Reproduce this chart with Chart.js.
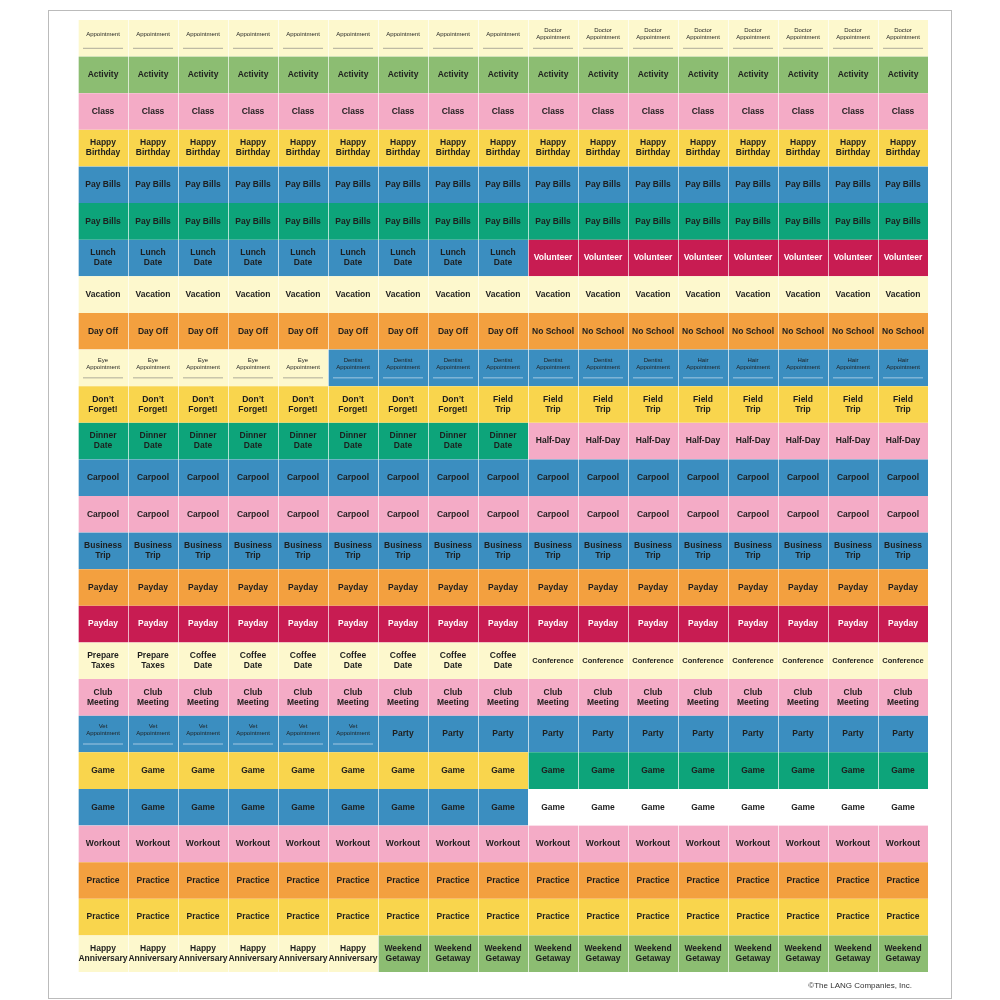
<!DOCTYPE html>
<html><head><meta charset="utf-8">
<script src="https://cdn.jsdelivr.net/npm/chart.js@4"></script>
<style>html,body{margin:0;padding:0;background:#fff}#w{width:1000px;height:1000px}</style>
</head><body><div id="w"><canvas id="c"></canvas></div>
<script>
const COLS = 17;
const colors = {ly:'#fdf8cd', gr:'#8cbd72', pk:'#f4abc6', ye:'#f9d54d', bl:'#3b8ec0', tg:'#0da47a', cr:'#c81c52', or:'#f3a03f', wh:'#ffffff'};
// each row: [label, colorKey, count] segments ("~" prefix = small appointment sticker)
const rows = [
 [['~Appointment','ly',9],['~Doctor\nAppointment','ly',8]],
 [['Activity','gr',17]],
 [['Class','pk',17]],
 [['Happy\nBirthday','ye',17]],
 [['Pay Bills','bl',17]],
 [['Pay Bills','tg',17]],
 [['Lunch\nDate','bl',9],['Volunteer','cr',8]],
 [['Vacation','ly',17]],
 [['Day Off','or',9],['No School','or',8]],
 [['~Eye\nAppointment','ly',5],['~Dentist\nAppointment','bl',7],['~Hair\nAppointment','bl',5]],
 [["Don’t\nForget!",'ye',8],['Field\nTrip','ye',9]],
 [['Dinner\nDate','tg',9],['Half-Day','pk',8]],
 [['Carpool','bl',17]],
 [['Carpool','pk',17]],
 [['Business\nTrip','bl',17]],
 [['Payday','or',17]],
 [['Payday','cr',17]],
 [['Prepare\nTaxes','ly',2],['Coffee\nDate','ly',7],['Conference','ly',8]],
 [['Club\nMeeting','pk',17]],
 [['~Vet\nAppointment','bl',6],['Party','bl',11]],
 [['Game','ye',9],['Game','tg',8]],
 [['Game','bl',9],['Game','wh',8]],
 [['Workout','pk',17]],
 [['Practice','or',17]],
 [['Practice','ye',17]],
 [['Happy\nAnniversary','ly',6],['Weekend\nGetaway','gr',11]]
];
const rowLabels = rows.map((r,i)=>'R'+(i+1));
function expand(r){const out=[];r.forEach(s=>{for(let k=0;k<s[2];k++)out.push(s);});return out;}
const grid = rows.map(expand);
const datasets = [];
for(let c=0;c<COLS;c++){
  datasets.push({data: rows.map(()=>1),
    backgroundColor: ctx=>colors[grid[ctx.dataIndex][c][1]],
    borderColor:'rgba(255,255,255,0.45)', borderWidth:{left:1,right:0,top:0,bottom:0}, borderSkipped:false});
}
const textPlugin = {id:'txt',
 beforeDraw(chart){const x=chart.ctx;x.save();x.fillStyle='#fff';x.fillRect(0,0,1000,1000);
   x.strokeStyle='#bbb';x.lineWidth=1;x.strokeRect(48.5,10.5,903,988);x.restore();},
 afterDraw(chart){
  const x=chart.ctx; x.save(); x.textAlign='center'; x.textBaseline='middle';
  for(let c=0;c<COLS;c++){
    const meta=chart.getDatasetMeta(c);
    meta.data.forEach((el,r)=>{
      const seg=grid[r][c]; let t=seg[0]; const small=t[0]==='~'; if(small)t=t.slice(1);
      const cx=(el.base+el.x)/2, cy=el.y;
      const dark = (seg[1]==='cr');
      x.fillStyle = dark?'#fff':'#1e1e1e';
      const lines=t.split('\n');
      if(small){
        x.font='6px "Liberation Sans", Arial, sans-serif';
        const lh=7, y0=cy-4-(lines.length-1)*lh/2;
        lines.forEach((l,i)=>x.fillText(l,cx,y0+i*lh));
        x.strokeStyle=seg[1]==='bl'?'#e8f0f8':'#777';x.lineWidth=0.6;
        x.beginPath();x.moveTo(cx-20,cy+10);x.lineTo(cx+20,cy+10);x.stroke();
      } else {
        const sz = (t.length>9 && lines.length===1) ? 7.5 : 8.5;
        x.font='bold '+sz+'px "Liberation Sans", Arial, sans-serif';
        const lh=10, y0=cy-(lines.length-1)*lh/2;
        lines.forEach((l,i)=>x.fillText(l,cx,y0+i*lh));
      }
    });
  }
  x.fillStyle='#333';x.font='8px "Liberation Sans", Arial, sans-serif';x.textAlign='right';
  x.fillText('©The LANG Companies, Inc.',912,986);
  x.restore();
 }};
new Chart(document.getElementById('c'),{type:'bar',
 data:{labels:rowLabels,datasets},
 options:{indexAxis:'y',responsive:true,maintainAspectRatio:false,animation:false,
  layout:{padding:{left:78,right:72,top:20,bottom:28}},
  datasets:{bar:{barPercentage:1,categoryPercentage:1}},
  scales:{x:{stacked:true,display:false,min:0,max:COLS},y:{stacked:true,display:false}},
  plugins:{legend:{display:false},tooltip:{enabled:false}}},
 plugins:[textPlugin]});
</script></body></html>
